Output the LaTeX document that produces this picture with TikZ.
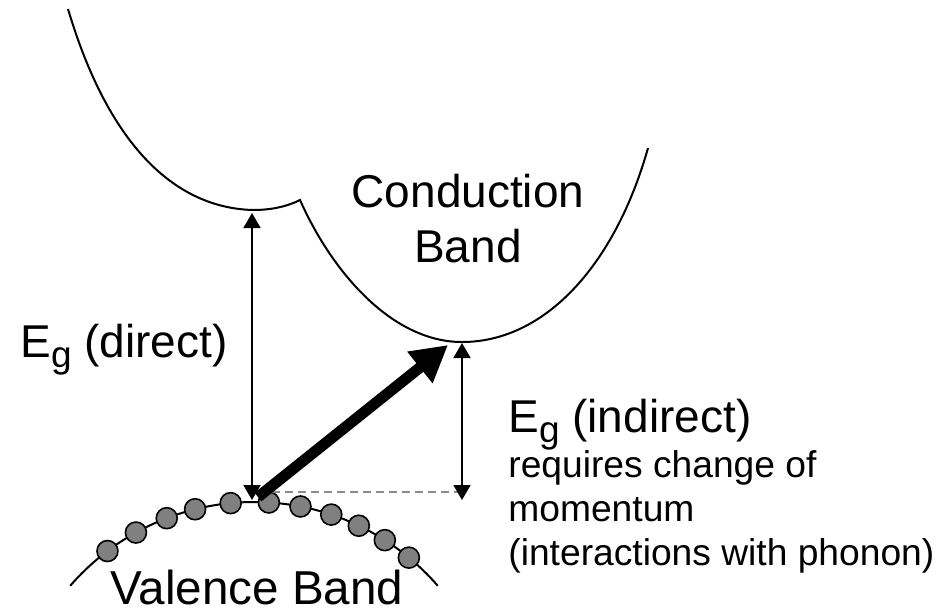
\documentclass[tikz,border=0pt]{standalone}
\usepackage{fontspec}
\setmainfont{Liberation Sans}
\usetikzlibrary{arrows.meta}

\definecolor{dotfill}{RGB}{128,128,128}
\definecolor{levelgray}{RGB}{140,140,140}

\begin{document}
\begin{tikzpicture}[x=0.5pt, y=-0.5pt,
    every node/.style = {inner sep=0pt, font=\fontsize{23}{27.5}\selectfont},
    bandln/.style     = {draw=black, line width=1pt},
    gapar/.style      = {draw=black, line width=0.9pt,
                         {Triangle[length=7.5pt,width=8.5pt]}-{Triangle[length=7.5pt,width=8.5pt]}},
    jumpar/.style     = {draw=black, line width=5.5pt,
                         -{Triangle[length=18pt,width=19pt]}},
    dotn/.style       = {circle, draw=black, fill=dotfill, line width=0.8pt,
                         minimum size=10.5pt},
    levelln/.style    = {draw=levelgray, line width=0.7pt,
                         dash pattern=on 4pt off 2.5pt},
    notetxt/.style    = {align=left, font=\fontsize{18.6}{21.8}\selectfont}]

    \useasboundingbox (0,0) rectangle (948,612);

    % Band edges
    \coordinate (cbdir)  at (252,213);
    \coordinate (cbind)  at (462,343);
    \coordinate (vbtop)  at (252,500);
    \coordinate (vbind)  at (462,500);
    \coordinate (jumpa)  at (258,497);
    \coordinate (jumpb)  at (448,345);
    \coordinate (levl)   at (272,492);
    \coordinate (levr)   at (458,492);
    \coordinate (vbc)    at (254,745.5);

    % Conduction band
    \draw[bandln] (68,9) .. controls (110,150) and (178,208) .. (253,210)
                  .. controls (275,210) and (290,205) .. (300,200)
                  .. controls (332,272) and (392,342) .. (462,342)
                  .. controls (545,342) and (615,265) .. (648,148);

    % Valence band
    \draw[bandln] (vbc) ++(221:243.5) arc[start angle=221, end angle=319, radius=243.5];
    \foreach \a [count=\i] in {-37,-29,-21,-14,-5.5,3.5,11,18.5,25.5,32.5,39.5}
      \node[dotn] (dot\i) at ([shift={(270+\a:243.5)}]vbc) {};

    % Gaps
    \draw[levelln] (levl) -- (levr);
    \draw[gapar] (vbtop) -- (cbdir);
    \draw[gapar] (cbind) -- (vbind);
    \draw[jumpar] (jumpa) -- (jumpb);

    % Labels (base = last line)
    \node[align=center, anchor=base] (cblbl) at (468,262) {Conduction\\Band};
    \node[anchor=base, font=\fontsize{23.8}{28}\selectfont] (vblbl) at (257,604) {Valence Band};
    \node[anchor=base west] (egdir) at (20,357)
      {E\raisebox{-5pt}{\fontsize{18.5}{18.5}\selectfont g} (direct)};
    \node[anchor=base west] (egind) at (508,432)
      {E\raisebox{-5pt}{\fontsize{18.5}{18.5}\selectfont g} (indirect)};
    \node[notetxt, anchor=base west] (note) at (508,565)
      {requires change of\\momentum\\(interactions with phonon)};
  \end{tikzpicture}
\end{document}
